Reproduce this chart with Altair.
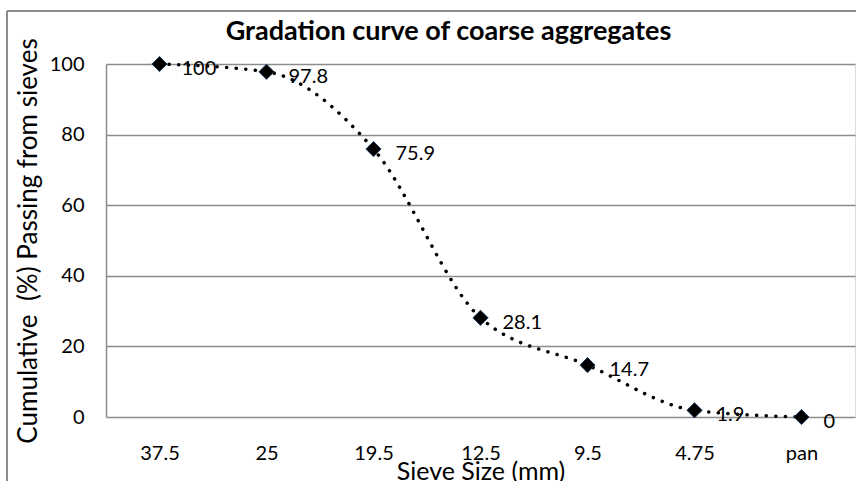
import altair as alt
import pandas as pd

sieves = ["37.5", "25", "19.5", "12.5", "9.5", "4.75", "pan"]
passing = [100, 97.8, 75.9, 28.1, 14.7, 1.9, 0]
labels = ["100", "97.8", "75.9", "28.1", "14.7", "1.9", "0"]

df = pd.DataFrame({"sieve": sieves, "passing": passing, "label": labels})

FONT = "Lato"
GRID = "#8c8c8c"

x = alt.X("sieve:N", sort=sieves, title="Sieve Size (mm)",
          scale=alt.Scale(paddingInner=0, paddingOuter=0),
          axis=alt.Axis(labelAngle=0, ticks=False, domain=False, grid=False,
                        labelPadding=26, titlePadding=-4, labelFontSize=20,
                        titleFontSize=25, labelFont=FONT, titleFont=FONT,
                        labelColor="black", titleColor="black",
                        titleFontWeight="normal"))
y = alt.Y("passing:Q", title="Cumulative\u00a0\u00a0(%)\u00a0Passing from sieves",
          scale=alt.Scale(domain=[0, 100], nice=False),
          axis=alt.Axis(values=[0, 20, 40, 60, 80, 100], ticks=False,
                        domainColor=GRID, domainWidth=1.5,
                        gridColor=GRID, gridWidth=1.5, gridOpacity=1,
                        labelPadding=22, titlePadding=8, labelFontSize=20,
                        titleFontSize=26, labelFont=FONT, titleFont=FONT,
                        labelColor="black", titleColor="black",
                        titleFontWeight="normal"))

base = alt.Chart(df)

line = base.mark_line(interpolate="monotone", color="black", strokeWidth=3.5,
                      strokeDash=[0.1, 9.5], strokeCap="round").encode(x=x, y=y)
pts = base.mark_point(shape="diamond", filled=True, size=230, color="black",
                      opacity=1, stroke="#1f3a5f", strokeWidth=1).encode(x=x, y=y)
txt = base.mark_text(align="left", dx=22, dy=5, fontSize=20, font=FONT,
                     color="black").encode(x=x, y=y, text="label:N")

frame_top = alt.Chart(df).mark_rule(color=GRID, strokeWidth=2).encode(
    x=alt.value(-99), x2=alt.value(760), y=alt.value(-53))
frame_left = alt.Chart(df).mark_rule(color=GRID, strokeWidth=2).encode(
    x=alt.value(-99), y=alt.value(-53), y2=alt.value(480))

chart = alt.layer(frame_top, frame_left, line, pts, txt).properties(
    width=749, height=353,
    title=alt.TitleParams("Gradation curve of coarse aggregates", font=FONT,
                          fontSize=27, fontWeight="bold", color="black",
                          offset=-36, dx=-32, anchor="middle"),
    autosize=alt.AutoSizeParams(type="none"),
    padding={"left": 106, "top": 64, "right": 1, "bottom": 64},
).configure_view(stroke=None).configure(background="white")

chart.save("out.html", embed_options={"renderer": "svg", "actions": False})
